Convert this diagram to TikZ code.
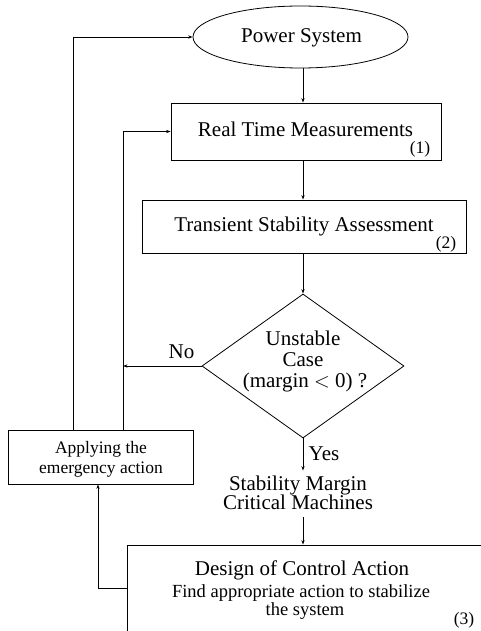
\documentclass[tikz,border=0pt]{standalone}
\usepackage{fontspec}
\setmainfont{Liberation Serif}
\usetikzlibrary{shapes.geometric,arrows.meta}
\begin{document}
\begin{tikzpicture}[x=1pt,y=-1pt,
  arr/.style={-{Stealth[length=4.5pt,width=3.2pt]}, line width=0.7pt},
  ln/.style={line width=0.7pt},
  boxshape/.style={draw, line width=0.8pt, inner sep=0pt},
  big/.style={font=\fontsize{21}{24}\selectfont, anchor=base, inner sep=0pt},
  mid/.style={font=\fontsize{18.5}{22}\selectfont, anchor=base, inner sep=0pt},
  small/.style={font=\fontsize{17.5}{20}\selectfont, anchor=base, inner sep=0pt}]
\useasboundingbox (0,0) rectangle (481,631);
\clip (0,0) rectangle (481,631);

% shapes
\node[boxshape, ellipse, minimum width=215pt, minimum height=62pt] (ps) at (300.5,37) {};
\node[boxshape, minimum width=270pt, minimum height=57pt] (rtm) at (306,131.5) {};
\node[boxshape, minimum width=324pt, minimum height=53pt] (tsa) at (304,226.5) {};
\node[boxshape, diamond, minimum width=202pt, minimum height=144pt] (dia) at (303,366) {};
\node[boxshape, minimum width=185pt, minimum height=54pt] (emerg) at (100.5,457) {};
\node[boxshape, minimum width=373pt, minimum height=110pt] (box3) at (313.5,600) {};

% texts
\node[big] (pst) at (301.5,43) {Power System};
\node[big] (rtmt) at (305.5,137) {Real Time Measurements};
\node[small] (n1) at (420,154) {(1)};
\node[big] (tsat) at (304,231) {Transient Stability Assessment};
\node[small] (n2) at (446,248) {(2)};
\node[big] (u1) at (303,345) {Unstable};
\node[big] (u2) at (303,366) {Case};
\node[big] (u3) at (305,387) {(margin $<$ 0) ?};
\node[big] (no) at (181.5,358) {No};
\node[big] (yes) at (324,460) {Yes};
\node[big, inner ysep=4.7pt] (sm1) at (298,490) {Stability Margin};
\node[big, inner ysep=8pt] (sm2) at (298,509) {Critical Machines};
\node[small] (e1) at (101,453) {Applying the};
\node[small] (e2) at (101,473) {emergency action};
\node[big] (d1) at (302,575) {Design of Control Action};
\node[mid] (d2) at (301,597) {Find appropriate action to stabilize};
\node[mid] (d3) at (305,615) {the system};
\node[small] (n3) at (464,624) {(3)};

% helper coordinates
\coordinate (c1) at (123,131.5);
\coordinate (c2) at (73,37);
\coordinate (c3) at (98,588);

% connectors
\draw[arr] (ps.south -| dia.north) -- (rtm.north -| dia.north);
\draw[arr] (rtm.south -| dia.north) -- (tsa.north -| dia.north);
\draw[arr] (tsa.south -| dia.north) -- (dia.north);
\draw[arr] (dia.west) -- (dia.west -| c1);
\draw[arr] (emerg.north -| c1) -- (c1) -- (rtm.west);
\draw[arr] (emerg.north -| c2) -- (c2) -- (ps.west);
\draw[arr] (dia.south) -- (sm1.north -| dia.south);
\draw[arr] (sm2.south -| dia.south) -- (box3.north -| dia.south);
\draw[arr] (box3.west |- c3) -- (c3) -- (emerg.south -| c3);
\end{tikzpicture}
\end{document}
